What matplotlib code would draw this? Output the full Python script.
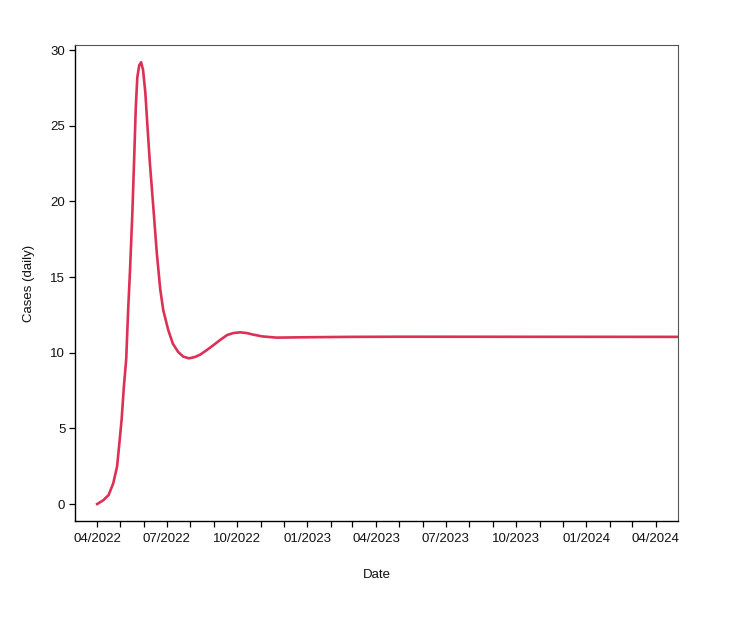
import pandas as pd
import matplotlib
matplotlib.use("Agg")
import matplotlib.pyplot as plt
import matplotlib.dates as mdates

plt.rcParams['font.family'] = ['Liberation Sans', 'DejaVu Sans']

# days after 2022-04-01 and daily cases
start = pd.Timestamp("2022-04-01")
days = [0, 8, 15, 21, 26, 29, 32, 35, 38, 40.5, 43, 46, 48.5, 50.5, 52.5,
        55, 57.5, 60, 63, 66, 69, 73.5, 78, 82.5, 86.5, 93, 99, 106, 112.5,
        120, 128, 135, 144, 152, 161, 170, 178, 187, 196, 204, 216, 235,
        265, 331, 396, 760]
cases = [0.0, 0.25, 0.6, 1.37, 2.47, 4.0, 5.6, 7.8, 9.6, 12.8, 15.5, 19.2,
         23.0, 26.2, 28.2, 29.0, 29.2, 28.7, 27.2, 24.8, 22.5, 19.6, 16.6,
         14.2, 12.8, 11.5, 10.6, 10.05, 9.75, 9.63, 9.72, 9.88, 10.2, 10.5,
         10.85, 11.17, 11.3, 11.35, 11.3, 11.2, 11.08, 11.0, 11.02, 11.05,
         11.06, 11.05]
dates = [start + pd.Timedelta(days=d) for d in days]

y_ticks = [0, 5, 10, 15, 20, 25, 30]


def main():
    fig = plt.figure(figsize=(7.54, 6.28), dpi=100)
    ax = fig.add_axes([0.0995, 0.1704, 0.7997, 0.7579])

    ax.plot(dates, cases, color="#dc3056", lw=1.9, solid_joinstyle="round")

    ax.set_xlim(pd.Timestamp("2022-03-03"), pd.Timestamp("2024-04-30"))
    ax.set_ylim(-1.12, 30.34)
    ax.set_yticks(y_ticks)

    ax.xaxis.set_major_locator(mdates.MonthLocator(bymonth=[1, 4, 7, 10]))
    ax.xaxis.set_major_formatter(mdates.DateFormatter("%m/%Y"))
    ax.xaxis.set_minor_locator(mdates.MonthLocator())

    ax.tick_params(axis="both", which="both", direction="out", length=4,
                   width=0.9, color="black", labelsize=9.5, labelcolor="#111111")
    ax.tick_params(axis="y", pad=3)
    ax.tick_params(axis="x", pad=5)

    for side in ["left", "bottom"]:
        ax.spines[side].set_color("black")
        ax.spines[side].set_linewidth(1.0)
    for side in ["top", "right"]:
        ax.spines[side].set_color("#555555")
        ax.spines[side].set_linewidth(0.8)

    ax.set_xlabel("Date", fontsize=9.5, color="#111111", labelpad=17)
    ax.set_ylabel("Cases (daily)", fontsize=9.5, color="#111111", labelpad=11)

    fig.savefig("out.png", dpi=100)


if __name__ == "__main__":
    main()
